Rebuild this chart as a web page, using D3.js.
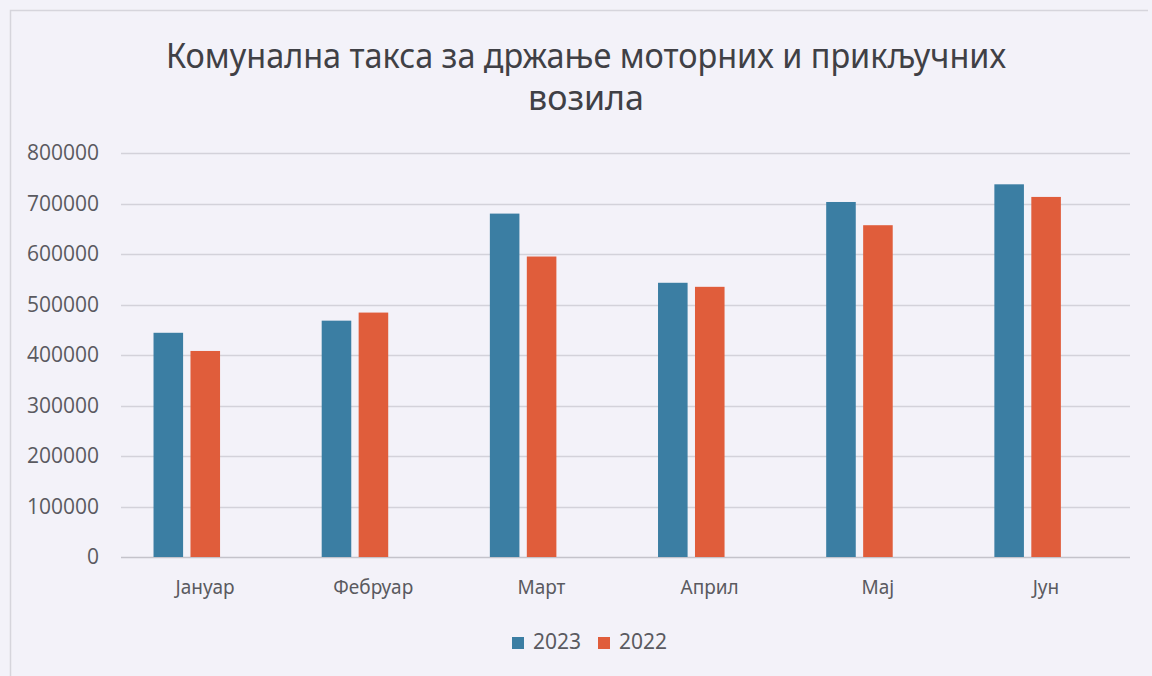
<!DOCTYPE html>
<html>
<head>
<meta charset="utf-8">
<script src="https://cdn.jsdelivr.net/npm/d3@7"></script>
<style>
  html, body { margin: 0; padding: 0; background: #f3f2f9; }
  svg { display: block; }
</style>
</head>
<body>
<div id="chart"></div>
<script>
// data
var months = ["Јануар", "Фебруар", "Март", "Април", "Мај", "Јун"];
var years = ["2023", "2022"];
var values2023 = [444000, 468000, 680000, 543000, 703000, 738000];
var values2022 = [408000, 484000, 595000, 535000, 657000, 713000];
var yTicks = [0, 100000, 200000, 300000, 400000, 500000, 600000, 700000, 800000];
var titleLines = ["Комунална такса за држање моторних и прикључних", "возила"];

var colors = { "2023": "#3b7ea3", "2022": "#e05d3b" };
var series = { "2023": values2023, "2022": values2022 };

var W = 1152, H = 676;
var plot = { left: 121, right: 1130, top: 153, bottom: 557 };

var svg = d3.select("#chart").append("svg")
  .attr("width", W)
  .attr("height", H);

// chart frame - only the left and top edges show on the scan
svg.append("path")
  .attr("d", "M10.5," + H + "V10.5H" + (W - 4))
  .attr("fill", "none")
  .attr("stroke", "#d6d5dc")
  .attr("stroke-width", 1.5);

var x0 = d3.scaleBand()
  .domain(months)
  .range([plot.left, plot.right]);

// bars sit a bit left of the category centre in the original
var x1 = d3.scaleBand()
  .domain(years)
  .range([0, x0.bandwidth()])
  .paddingInner(0.2)
  .paddingOuter(1.375)
  .align(0.32);

var y = d3.scaleLinear()
  .domain([0, 800000])
  .range([plot.bottom, plot.top]);

// gridlines
svg.append("g")
  .selectAll("line")
  .data(yTicks)
  .enter()
  .append("line")
  .attr("x1", plot.left)
  .attr("x2", plot.right)
  .attr("y1", function(d){ return Math.round(y(d)) + 0.5; })
  .attr("y2", function(d){ return Math.round(y(d)) + 0.5; })
  .attr("stroke", function(d){ return d === 0 ? "#c4c3cb" : "#d3d2da"; })
  .attr("stroke-width", 1.5);

// y axis labels
var yAxis = d3.axisLeft(y).tickValues(yTicks).tickFormat(d3.format("d")).tickSize(0).tickPadding(0);
var gy = svg.append("g")
  .attr("transform", "translate(" + 99 + ",0)")
  .call(yAxis);
gy.select(".domain").remove();
gy.selectAll("text")
  .attr("font-family", "'Open Sans', sans-serif")
  .attr("font-size", 21)
  .attr("fill", "#5a5a60");

// bars
var groups = svg.append("g")
  .selectAll("g")
  .data(months)
  .enter()
  .append("g")
  .attr("transform", function(d){ return "translate(" + x0(d) + ",0)"; });

groups.selectAll("rect")
  .data(function(m, i){
    return years.map(function(yr){ return { year: yr, value: series[yr][i] }; });
  })
  .enter()
  .append("rect")
  .attr("x", function(d){ return x1(d.year); })
  .attr("width", x1.bandwidth())
  .attr("y", function(d){ return y(d.value); })
  .attr("height", function(d){ return y(0) - y(d.value); })
  .attr("fill", function(d){ return colors[d.year]; });

// x axis labels
var xAxis = d3.axisBottom(x0).tickSize(0).tickPadding(0);
var gx = svg.append("g")
  .attr("transform", "translate(0," + 580 + ")")
  .call(xAxis);
gx.select(".domain").remove();
gx.selectAll("text")
  .attr("font-family", "'Noto Sans', sans-serif")
  .attr("font-size", 19)
  .attr("fill", "#5a5a60");

// title
svg.append("g")
  .selectAll("text")
  .data(titleLines)
  .enter()
  .append("text")
  .attr("x", 586)
  .attr("y", function(d, i){ return 68 + i * 42; })
  .attr("text-anchor", "middle")
  .attr("font-family", "'Noto Sans', sans-serif")
  .attr("font-size", 34)
  .attr("fill", "#404045")
  .attr("textLength", function(d, i){ return i === 0 ? 840 : null; })
  .attr("lengthAdjust", "spacingAndGlyphs")
  .text(function(d){ return d; });

// legend
var legend = svg.append("g")
  .selectAll("g")
  .data(years)
  .enter()
  .append("g")
  .attr("transform", function(d, i){ return "translate(" + (512 + i * 86) + ",637)"; });

legend.append("rect")
  .attr("width", 12)
  .attr("height", 12)
  .attr("fill", function(d){ return colors[d]; });

legend.append("text")
  .attr("x", 21)
  .attr("y", 12)
  .attr("font-family", "'Noto Sans', sans-serif")
  .attr("font-size", 21)
  .attr("fill", "#5a5a60")
  .text(function(d){ return d; });
</script>
</body>
</html>
